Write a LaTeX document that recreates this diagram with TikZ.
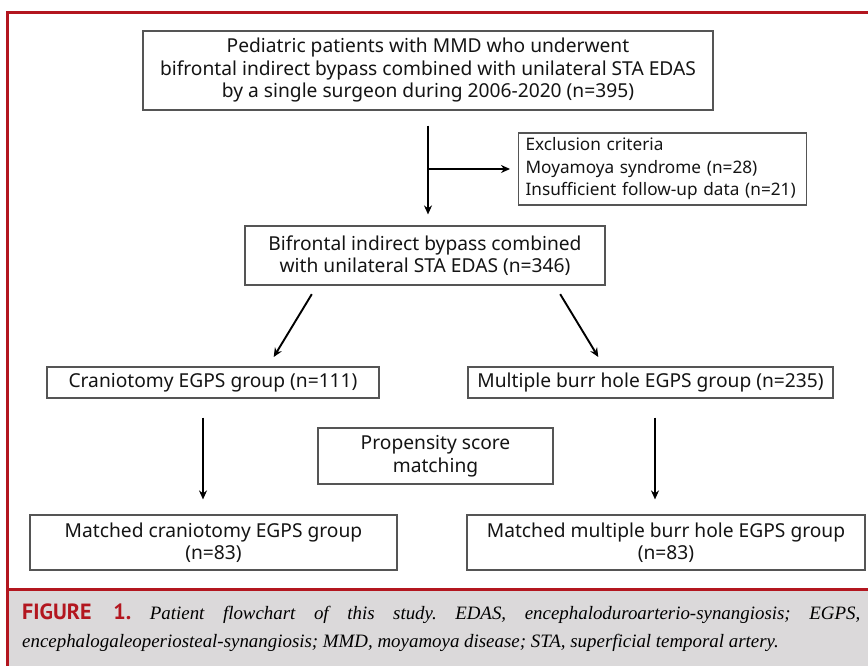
\documentclass[tikz,border=0pt]{standalone}
\usepackage{fontspec}
\setmainfont{Noto Sans}
\newfontfamily\captionserif{Liberation Serif}
\newfontfamily\captionsans{PT Sans}
\usetikzlibrary{arrows.meta}
\frenchspacing
\definecolor{frame red}{HTML}{B3161F}
\definecolor{caption gray}{HTML}{DBD9DA}
\definecolor{box gray}{HTML}{555555}
\tikzstyle{step box}=[draw=box gray, line width=1.2pt, text=black!92, inner sep=0pt, font=\fontsize{19.2}{22.5}\selectfont, align=center]
\tikzstyle{flow arrow}=[line width=1.9pt, -{Stealth[length=9pt, width=8pt]}]
\tikzstyle{frame line}=[draw=frame red, line width=3pt]

\begin{document}
\begin{tikzpicture}[x=1pt, y=-1pt]
      \useasboundingbox (0, 0) rectangle (868, 665);
      \clip (0, 0) rectangle (868, 665);

      % frame and caption panel
      \fill[caption gray] (7, 589) rectangle (900, 700);
      \draw[frame line] (7, 12) rectangle (900, 700);
      \draw[frame line] (7, 589) -- (900, 589);

      \node[step box, minimum width=570pt, minimum height=79pt] (patients) at (428, 70.5)
        {Pediatric patients with MMD who underwent\\
         bifrontal indirect bypass combined with unilateral STA EDAS\\
         by a single surgeon during 2006-2020 (n=395)};
      \node[step box, anchor=west, text width=274pt, inner xsep=7pt, minimum height=72pt, align=left, font=\fontsize{17.2}{22.5}\selectfont] (exclusion) at (518, 169)
        {Exclusion criteria\\
         Moyamoya syndrome (n=28)\\
         Insufficient follow-up data (n=21)};
      \node[step box, minimum width=360pt, minimum height=59pt] (bifrontal) at (425, 255.5)
        {Bifrontal indirect bypass combined\\
         with unilateral STA EDAS (n=346)};

      \node[step box, minimum width=332pt, minimum height=31pt] (craniotomy) at (213, 382.5)
        {Craniotomy EGPS group (n=111)};
      \node[step box, minimum width=365pt, minimum height=31pt] (burr_hole) at (650.5, 382.5)
        {Multiple burr hole EGPS group (n=235)};

      \node[step box, minimum width=235pt, minimum height=56pt] (propensity) at (435.5, 456)
        {Propensity score\\
         matching};

      \node[step box, minimum width=367pt, minimum height=55pt] (matched_left) at (213.5, 542.5)
        {Matched craniotomy EGPS group\\
         (n=83)};
      \node[step box, minimum width=398pt, minimum height=55pt] (matched_right) at (666, 542.5)
        {Matched multiple burr hole EGPS group\\
         (n=83)};

      \coordinate (branch) at (patients.south |- exclusion.west);

      \draw[flow arrow, shorten <=15pt, shorten >=11pt] (patients.south) to (patients.south |- bifrontal.north);
      \draw[flow arrow, shorten >=8pt] (branch) to (exclusion.west);
      \draw[flow arrow, shorten <=10pt, shorten >=11pt] ([xshift=-108pt]bifrontal.south) to ([xshift=55pt]craniotomy.north);
      \draw[flow arrow, shorten <=10pt, shorten >=11pt] ([xshift=130pt]bifrontal.south) to ([xshift=-46.5pt]burr_hole.north);
      \draw[flow arrow, shorten <=19pt, shorten >=15pt] ([xshift=-10pt]craniotomy.south) to ([xshift=-10pt]craniotomy.south |- matched_left.north);
      \draw[flow arrow, shorten <=19pt, shorten >=15pt] ([xshift=4.5pt]burr_hole.south) to ([xshift=4.5pt]burr_hole.south |- matched_right.north);

      % caption
      \node[anchor=north west, inner sep=0pt, align=left, font=\captionserif\itshape\fontsize{18.9}{28}\selectfont] (caption) at (22, 604)
        {\makebox[838pt][s]{{\captionsans\upshape\bfseries\fontsize{22}{28}\selectfont\color{frame red}FIGURE 1.} Patient flowchart of this study. EDAS, encephaloduroarterio-synangiosis; EGPS,}\\
         encephalogaleoperiosteal-synangiosis; MMD, moyamoya disease; STA, superficial temporal artery.};
    \end{tikzpicture}
\end{document}
